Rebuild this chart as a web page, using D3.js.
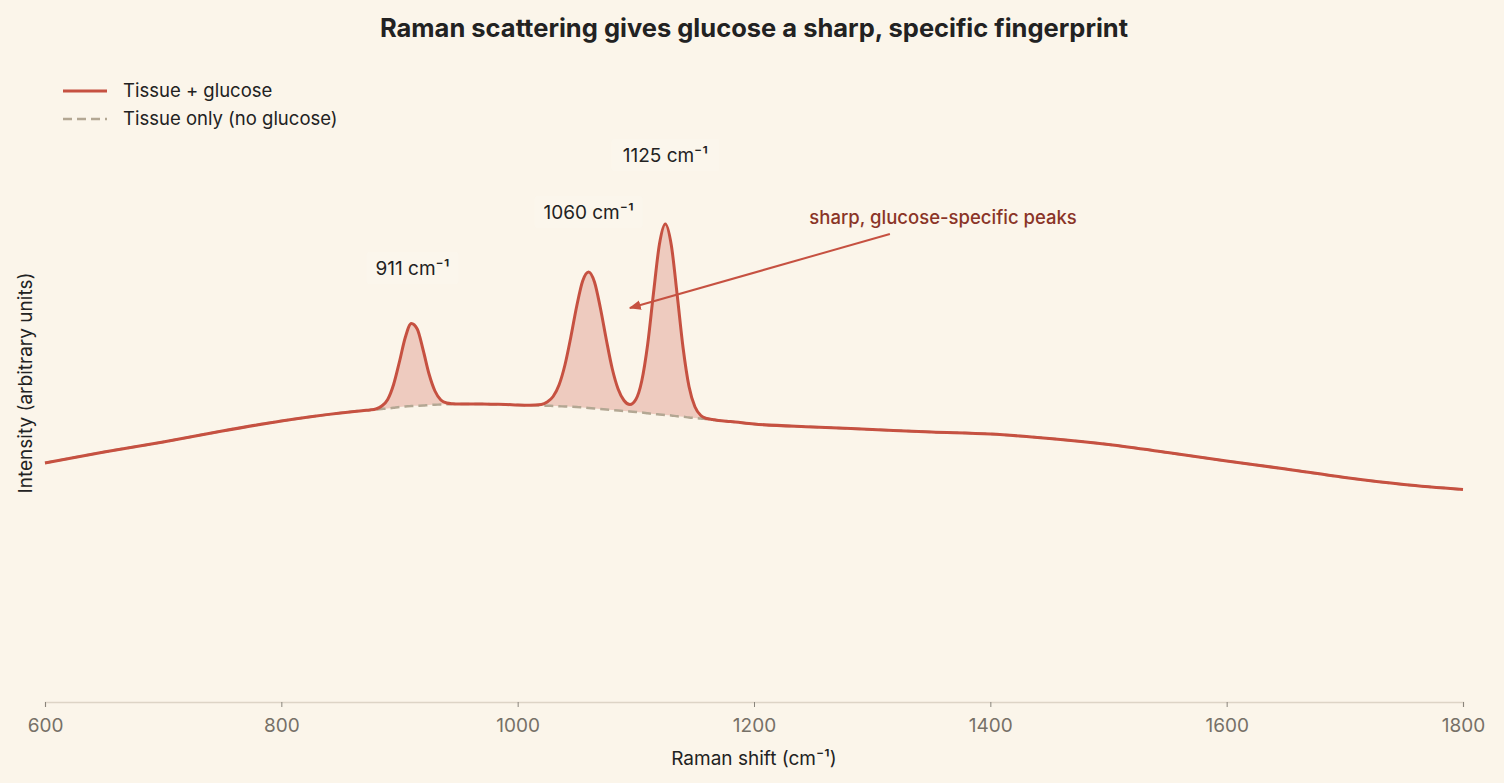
<!DOCTYPE html>
<html>
<head>
<meta charset="utf-8">
<script src="https://cdn.jsdelivr.net/npm/d3@7"></script>
<style>
  html, body { margin: 0; padding: 0; background: #fbf5ea; }
  svg { display: block; font-family: Inter, "Noto Sans", sans-serif; }
</style>
</head>
<body>
<div id="chart"></div>
<script>
// Raman shift grid (cm^-1)
var shifts = [600, 650, 700, 750, 800, 850,
  870, 875, 880, 885, 890, 895, 900, 905, 910, 915, 920, 925, 930, 935, 940, 945,
  950, 960, 970, 980, 990, 1000, 1010,
  1020, 1025, 1030, 1035, 1040, 1045, 1050, 1055, 1060, 1065, 1070, 1075, 1080, 1085, 1090, 1095,
  1100, 1105, 1110, 1115, 1120, 1125, 1130, 1135, 1140, 1145, 1150, 1155, 1160, 1165, 1170,
  1180, 1200, 1250, 1300, 1350, 1400, 1450, 1500, 1550, 1600, 1650, 1700, 1750, 1800];

// Tissue only (no glucose), arbitrary units
var tissueOnly = [47.8, 50.0, 52.0, 54.2, 56.2, 57.8,
  58.3, 58.4, 58.5, 58.6, 58.7, 58.85, 59.0, 59.1, 59.2, 59.25, 59.3, 59.4, 59.45, 59.5, 59.55, 59.6,
  59.6, 59.6, 59.6, 59.55, 59.5, 59.4, 59.35,
  59.3, 59.25, 59.2, 59.15, 59.1, 59.05, 59.0, 58.9, 58.8, 58.7, 58.6, 58.5, 58.4, 58.3, 58.2, 58.1,
  58.0, 57.9, 57.75, 57.6, 57.5, 57.4, 57.3, 57.15, 57.05, 56.9, 56.8, 56.7, 56.55, 56.45, 56.3,
  56.1, 55.6, 55.0, 54.5, 54.0, 53.6, 52.7, 51.5, 49.9, 48.2, 46.6, 44.9, 43.5, 42.5];

// Tissue + glucose, arbitrary units
var tissueGlucose = [47.8, 50.0, 52.0, 54.2, 56.2, 57.8,
  58.3, 58.4, 58.6, 59.2, 60.5, 63.5, 68.1, 73.0, 75.7, 74.6, 70.4, 65.6, 62.2, 60.4, 59.8, 59.65,
  59.6, 59.6, 59.6, 59.55, 59.5, 59.4, 59.35,
  59.5, 60.0, 61.1, 63.4, 67.4, 73.0, 79.2, 84.2, 86.0, 84.0, 78.8, 72.5, 66.7, 62.6, 60.3, 59.5,
  60.5, 64.2, 71.5, 81.9, 91.6, 95.6, 91.4, 81.4, 70.8, 63.1, 59.05, 57.3, 56.7, 56.5, 56.3,
  56.1, 55.6, 55.0, 54.5, 54.0, 53.6, 52.7, 51.5, 49.9, 48.2, 46.6, 44.9, 43.5, 42.5];

var xTicks = [600, 800, 1000, 1200, 1400, 1600, 1800];

// Glucose peaks and their labels
var peakShifts = [911, 1060, 1125];
var peakLabels = ["911 cm⁻¹", "1060 cm⁻¹", "1125 cm⁻¹"];
var peakLabelLevels = [86.8, 98.0, 109.4];

var width = 1504,
    height = 783;
var margin = { top: 80, right: 41, bottom: 81, left: 45 };

var red = "#c65141",
    tan = "#b3a793",
    ink = "#222222";

var data = shifts.map(function(s, i) {
  return { x: s, base: tissueOnly[i], glu: tissueGlucose[i] };
});

var svg = d3.select("#chart")
  .append("svg")
    .attr("width", width)
    .attr("height", height);

svg.append("rect")
  .attr("width", width)
  .attr("height", height)
  .attr("fill", "#fbf5ea");

// Scales
var x = d3.scaleLinear()
  .domain([600, 1800])
  .range([margin.left, width - margin.right]);

var y = d3.scaleLinear()
  .domain([0, 100])
  .range([height - margin.bottom, 202]);

// Title
svg.append("text")
  .attr("x", width / 2 + 2)
  .attr("y", 37)
  .attr("text-anchor", "middle")
  .attr("font-size", 25.5)
  .attr("font-weight", 700)
  .attr("fill", ink)
  .text("Raman scattering gives glucose a sharp, specific fingerprint");

// Fill between curves
var area = d3.area()
  .x(function(d) { return x(d.x); })
  .y0(function(d) { return y(d.base); })
  .y1(function(d) { return y(d.glu); })
  .curve(d3.curveMonotoneX);

svg.append("path")
  .datum(data)
  .attr("d", area)
  .attr("fill", red)
  .attr("fill-opacity", 0.25);

var lineBase = d3.line()
  .x(function(d) { return x(d.x); })
  .y(function(d) { return y(d.base); })
  .curve(d3.curveMonotoneX);

var lineGlu = d3.line()
  .x(function(d) { return x(d.x); })
  .y(function(d) { return y(d.glu); })
  .curve(d3.curveMonotoneX);

svg.append("path")
  .datum(data)
  .attr("d", lineBase)
  .attr("fill", "none")
  .attr("stroke", tan)
  .attr("stroke-width", 2.5)
  .attr("stroke-dasharray", "9,5");

svg.append("path")
  .datum(data)
  .attr("d", lineGlu)
  .attr("fill", "none")
  .attr("stroke", red)
  .attr("stroke-width", 3)
  .attr("stroke-linejoin", "round");

// X axis
var xAxis = svg.append("g")
  .attr("transform", "translate(0," + y(0) + ")")
  .call(d3.axisBottom(x).tickValues(xTicks).tickSize(5).tickPadding(12).tickFormat(d3.format("d")));

xAxis.select(".domain").attr("stroke", "#ddd4c6").attr("stroke-width", 1.5);
xAxis.selectAll(".tick line").attr("stroke", "#8a857c");
xAxis.selectAll(".tick text")
  .attr("font-size", 19)
  .attr("fill", "#767067")
  .attr("font-family", "Inter, sans-serif");

svg.append("text")
  .attr("x", x(1200))
  .attr("y", 765)
  .attr("text-anchor", "middle")
  .attr("font-size", 19)
  .attr("fill", ink)
  .text("Raman shift (cm⁻¹)");

svg.append("text")
  .attr("transform", "translate(32," + 383 + ") rotate(-90)")
  .attr("text-anchor", "middle")
  .attr("font-size", 19)
  .attr("fill", ink)
  .text("Intensity (arbitrary units)");

// Peak labels
var labels = svg.selectAll(".peak-label")
  .data(peakShifts)
  .enter()
  .append("g")
    .attr("class", "peak-label")
    .attr("transform", function(d, i) { return "translate(" + x(d) + "," + y(peakLabelLevels[i]) + ")"; });

labels.append("rect")
  .attr("x", function(d, i) { return i === 0 ? -46 : -54; })
  .attr("y", -16)
  .attr("width", function(d, i) { return i === 0 ? 92 : 108; })
  .attr("height", 32)
  .attr("rx", 3)
  .attr("fill", "#fdf9f2")
  .attr("fill-opacity", 0.35);

labels.append("text")
  .attr("text-anchor", "middle")
  .attr("dy", "0.35em")
  .attr("font-size", 19)
  .attr("fill", ink)
  .text(function(d, i) { return peakLabels[i]; });

// Annotation arrow
svg.append("defs").append("marker")
  .attr("id", "arrow")
  .attr("viewBox", "0 0 10 10")
  .attr("refX", 9)
  .attr("refY", 5)
  .attr("markerWidth", 6)
  .attr("markerHeight", 6)
  .attr("markerUnits", "strokeWidth")
  .attr("orient", "auto")
  .append("path")
    .attr("d", "M0,1 L10,5 L0,9 Z")
    .attr("fill", red);

svg.append("line")
  .attr("x1", x(1315))
  .attr("y1", y(93.6))
  .attr("x2", x(1095))
  .attr("y2", y(78.8))
  .attr("stroke", red)
  .attr("stroke-width", 2)
  .attr("marker-end", "url(#arrow)");

svg.append("text")
  .attr("x", x(1360))
  .attr("y", 224)
  .attr("text-anchor", "middle")
  .attr("font-size", 18.5)
  .attr("font-weight", 500)
  .attr("fill", "#8a3427")
  .text("sharp, glucose-specific peaks");

// Legend
var legend = svg.append("g").attr("transform", "translate(63,91)");
legend.append("line")
  .attr("x1", 0).attr("x2", 44).attr("y1", 0).attr("y2", 0)
  .attr("stroke", red).attr("stroke-width", 3);
legend.append("text")
  .attr("x", 60).attr("dy", "0.35em")
  .attr("font-size", 18.5).attr("fill", ink)
  .text("Tissue + glucose");
legend.append("line")
  .attr("x1", 0).attr("x2", 44).attr("y1", 28).attr("y2", 28)
  .attr("stroke", tan).attr("stroke-width", 2.5).attr("stroke-dasharray", "9,5");
legend.append("text")
  .attr("x", 60).attr("y", 28).attr("dy", "0.35em")
  .attr("font-size", 18.5).attr("fill", ink)
  .text("Tissue only (no glucose)");
</script>
</body>
</html>
